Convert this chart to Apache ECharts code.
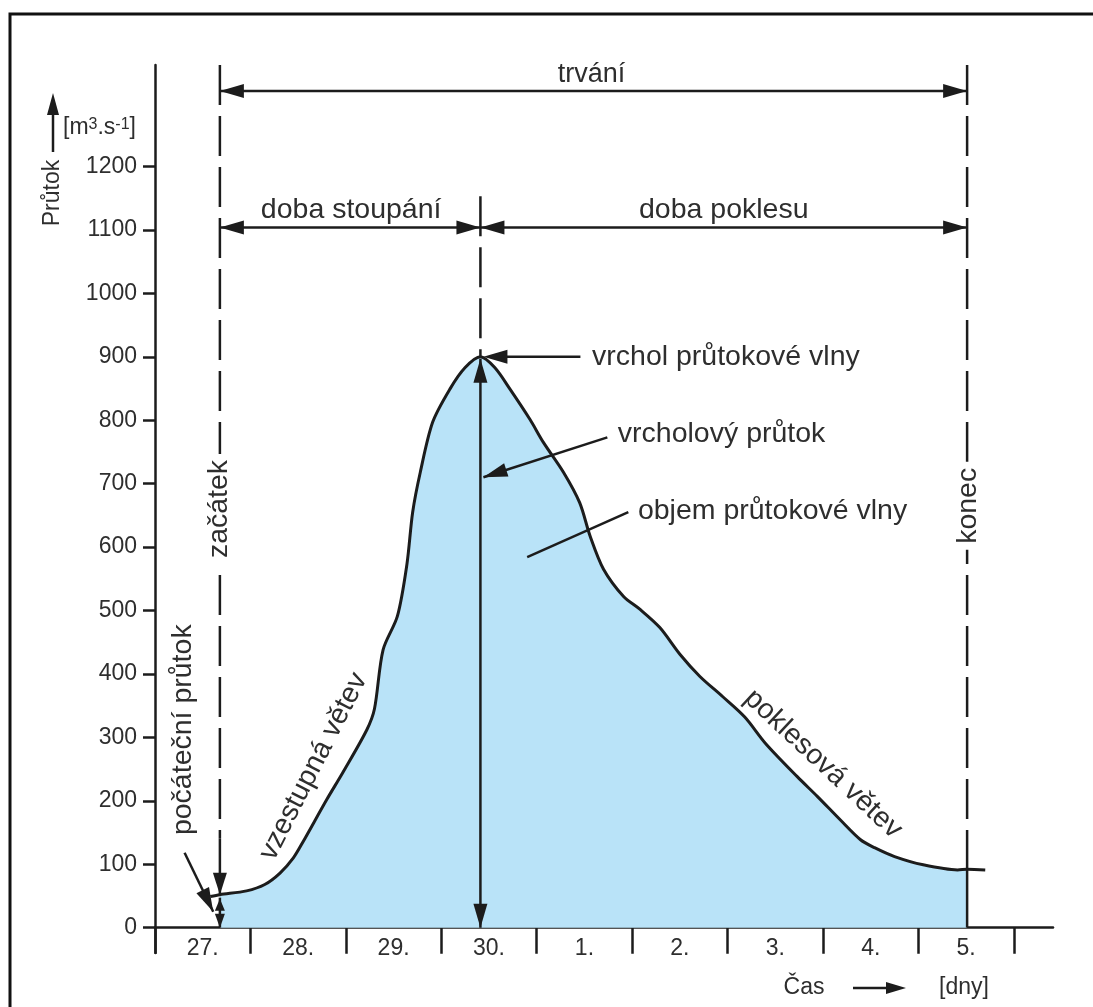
<!DOCTYPE html>
<html>
<head>
<meta charset="utf-8">
<title>Průtoková vlna</title>
<script src="https://cdn.jsdelivr.net/npm/echarts@6/dist/echarts.min.js"></script>
<style>
  html, body { margin: 0; padding: 0; background: #fff; }
  #chart { width: 1093px; height: 1007px; }
</style>
</head>
<body>
<div id="chart"></div>
<script>
// days on the x axis (value axis in days from the start of the 27th)
const days = ['27.', '28.', '29.', '30.', '1.', '2.', '3.', '4.', '5.']
const dayTicks = [0, 1, 2, 3, 4, 5, 6, 7, 8, 9]
const dayLabelPos = [0.5, 1.5, 2.5, 3.5, 4.5, 5.5, 6.5, 7.5, 8.5]
const flowTicks = [0, 100, 200, 300, 400, 500, 600, 700, 800, 900, 1000, 1100, 1200]

// hydrograph: time [days], flow [m3/s]
const hydroT = [0.58, 0.68, 0.96, 1.15, 1.31, 1.45, 1.55, 1.80, 1.97, 2.22, 2.30, 2.39, 2.54, 2.64, 2.70, 2.78, 2.91, 3.09, 3.25, 3.41,
  3.56, 3.72, 3.93, 4.07, 4.28, 4.45, 4.56, 4.70, 4.91, 5.08, 5.29, 5.50, 5.71, 5.95, 6.18, 6.40, 6.73, 6.94, 7.18, 7.39, 7.54, 7.75, 8.05, 8.41, 8.51, 8.70]
const hydroQ = [49, 52, 58, 68, 86, 110, 135, 202, 245, 312, 345, 438, 491, 573, 655, 718, 797, 849, 883, 900,
  883, 849, 801, 765, 718, 670, 617, 565, 522, 502, 473, 431, 396, 364, 332, 290, 238, 207, 170, 139, 126, 112, 99, 91, 92, 91]

// key moments of the wave
const startT = 0.68, peakT = 3.41, endT = 8.51
const startQ = 52, peakQ = 900, endQ = 92

const ink = '#1c1c1c'
const textColor = '#2e2e2e'
const fontFamily = '"Liberation Sans", Arial, Helvetica, sans-serif'

const chart = echarts.init(document.getElementById('chart'))

const curve = hydroT.map((t, i) => [t, hydroQ[i]])
const filled = curve.filter(p => p[0] >= startT && p[0] <= endT)

const option = {
  animation: false,
  backgroundColor: '#fff',
  grid: { left: 155, right: 40, top: 65, bottom: 54 },
  xAxis: {
    type: 'value',
    min: 0,
    max: 9.41,
    splitLine: { show: false },
    axisLine: { onZero: true, lineStyle: { color: ink, width: 2.5 } },
    axisTick: { customValues: dayTicks, length: 26, lineStyle: { color: ink, width: 2.5 } },
    axisLabel: {
      customValues: dayLabelPos,
      formatter: v => days[Math.floor(v)] || '',
      color: textColor,
      fontSize: 23,
      fontFamily: fontFamily,
      margin: -16
    }
  },
  yAxis: {
    type: 'value',
    min: -40,
    max: 1360,
    splitLine: { show: false },
    axisLine: { show: true, lineStyle: { color: ink, width: 2.5 } },
    axisTick: { customValues: flowTicks, length: 12, lineStyle: { color: ink, width: 2.5 } },
    axisLabel: {
      customValues: flowTicks,
      formatter: v => String(v),
      color: textColor,
      fontSize: 23,
      fontFamily: fontFamily,
      margin: 18
    }
  },
  series: [
    {
      type: 'line',
      data: filled,
      showSymbol: false,
      smooth: 0.3,
      lineStyle: { width: 0 },
      areaStyle: { color: '#b9e3f8', opacity: 1 },
      z: 2
    },
    {
      type: 'line',
      data: curve,
      showSymbol: false,
      smooth: 0.3,
      lineStyle: { color: ink, width: 3 },
      z: 5
    }
  ]
}
chart.setOption(option)

function px(t, q) {
  return chart.convertToPixel({ gridIndex: 0 }, [t, q])
}

function seg(a, b, dash) {
  return {
    type: 'line',
    shape: { x1: a[0], y1: a[1], x2: b[0], y2: b[1] },
    style: { stroke: ink, lineWidth: 2.5, lineDash: dash || null },
    z: 20
  }
}

function head(tip, from, L, W) {
  L = L || 24
  W = W || 14
  const dx = tip[0] - from[0], dy = tip[1] - from[1]
  const len = Math.hypot(dx, dy)
  const ux = dx / len, uy = dy / len
  const bx = tip[0] - ux * L, by = tip[1] - uy * L
  return {
    type: 'polygon',
    shape: { points: [[tip[0], tip[1]], [bx - uy * W / 2, by + ux * W / 2], [bx + uy * W / 2, by - ux * W / 2]] },
    style: { fill: ink },
    z: 21
  }
}

function dim(a, b) {
  return [seg(a, b), head(a, b), head(b, a)]
}

function txt(str, x, y, opt) {
  opt = opt || {}
  return {
    type: 'text',
    x: x,
    y: y,
    rotation: opt.rot || 0,
    z: 25,
    style: {
      text: str,
      fill: textColor,
      font: (opt.size || 28.5) + 'px ' + fontFamily,
      align: opt.align || 'center',
      verticalAlign: 'middle',
      backgroundColor: opt.bg || null,
      padding: opt.bg ? [0, 6] : 0,
      rich: opt.rich || null
    }
  }
}

const deg = Math.PI / 180
const topQ = 1360
const durationQ = 1319
const phaseQ = 1104
const dash = [40, 11]

const g = []
// frame round the figure
g.push({ type: 'rect', shape: { x: 10, y: 14, width: 1110, height: 1030 }, style: { fill: null, stroke: '#111', lineWidth: 3 }, z: 1 })

// start line
const s0 = px(startT, topQ), s1 = px(startT, 140), s2 = px(startT, startQ), s3 = px(startT, 0)
g.push(seg(s0, s1, dash), seg(s1, s2), head(s2, s1, 22, 14))
g.push(seg([s2[0], s2[1] + 3], s3), head([s2[0], s2[1] + 4], s3, 12, 10), head(s3, s2, 14, 10))

// peak line
const p0 = px(peakT, 1153), p1 = px(peakT, peakQ), p2 = px(peakT, 0)
g.push(seg(p0, p1, dash))
g.push(...dim([p1[0], p1[1] + 2], p2))

// end line
const e0 = px(endT, topQ), e1 = px(endT, endQ), e2 = px(endT, 0)
g.push(seg(e0, e1, dash), seg(e1, e2))

// duration and phase dimensions
const d0 = px(startT, durationQ), d1 = px(endT, durationQ)
g.push(...dim(d0, d1))
g.push(txt('trvání', (d0[0] + d1[0]) / 2 - 2, d0[1] - 16, { size: 27 }))
const r0 = px(startT, phaseQ), r1 = px(peakT, phaseQ), r2 = px(endT, phaseQ)
g.push(...dim(r0, r1), ...dim(r1, r2))
g.push(txt('doba stoupání', (r0[0] + r1[0]) / 2 + 1, r0[1] - 17))
g.push(txt('doba poklesu', (r1[0] + r2[0]) / 2, r1[1] - 17))

// peak annotations
const vt = px(peakT, peakQ)
g.push(seg([vt[0] + 100, vt[1]], [vt[0] + 10, vt[1]]), head([vt[0] + 3, vt[1]], [vt[0] + 100, vt[1]], 24, 14))
const vp = px(4.58, peakQ)
g.push(txt('vrchol průtokové vlny', vp[0], vp[1], { align: 'left' }))

const q0 = px(4.74, 773), q1 = px(peakT, 710)
q1[0] += 3
g.push(seg(q0, q1), head(q1, q0, 24, 14))
const qt = px(4.85, 778)
g.push(txt('vrcholový průtok', qt[0], qt[1], { align: 'left' }))

const o0 = px(4.96, 655), o1 = px(3.90, 584)
g.push(seg(o0, o1))
const ot = px(5.06, 656)
g.push(txt('objem průtokové vlny', ot[0], ot[1], { align: 'left' }))

// rotated labels
const zt = px(startT, 660)
g.push(txt('začátek', zt[0] - 1, zt[1], { rot: 90 * deg, bg: '#fff' }))
const kt = px(endT, 665)
g.push(txt('konec', kt[0] + 1, kt[1], { rot: 90 * deg, bg: '#fff' }))
const it = px(0.29, 312)
g.push(txt('počáteční průtok', it[0], it[1], { rot: 90 * deg }))
const ia = px(0.31, 118), ib = px(0.61, 25)
g.push(seg(ia, ib), head(ib, ia, 24, 14))
const ut = px(1.66, 254)
g.push(txt('vzestupná větev', ut[0], ut[1], { rot: 63 * deg }))
const lt = px(7.0, 258)
g.push(txt('poklesová větev', lt[0], lt[1], { rot: -43 * deg }))

// axis names
g.push(txt('Průtok', 53, 193, { rot: 90 * deg, size: 23 }))
g.push(seg([53, 152], [53, 112]), head([53, 93], [53, 152], 22, 12))
g.push(txt('[m{s|3}.s{s|-1}]', 63, 128, {
  align: 'left',
  size: 23,
  rich: { s: { fontSize: 16, fontFamily: fontFamily, fill: textColor, verticalAlign: 'top' } }
}))
g.push(txt('Čas', 804, 988, { size: 23 }))
g.push(seg([853, 988], [890, 988]), head([906, 988], [853, 988], 20, 12))
g.push(txt('[dny]', 964, 988, { size: 23 }))

chart.setOption({ graphic: g })
</script>
</body>
</html>
